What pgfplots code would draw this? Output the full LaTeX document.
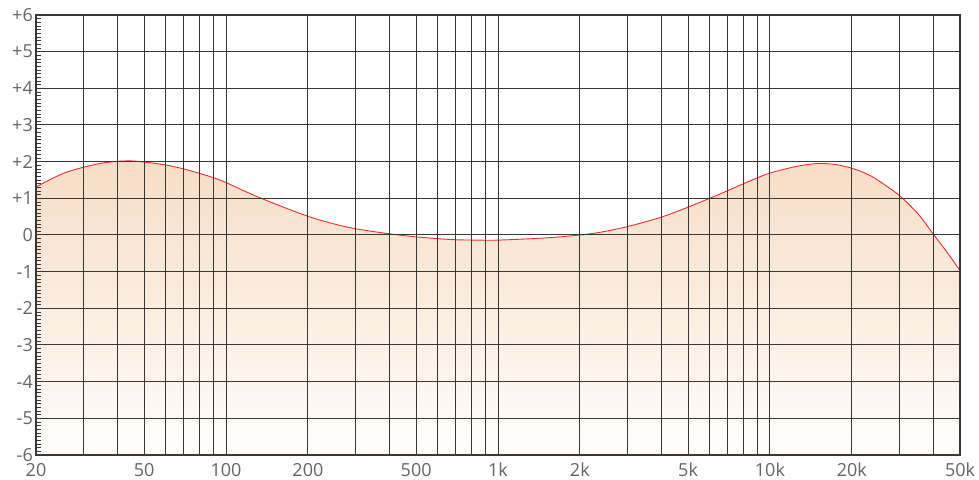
\documentclass[border=0pt]{standalone}
\usepackage{pgfplots}
\pgfplotsset{compat=1.18}
\usepackage{pgfplotstable}
\usepackage{fontspec}
\setmainfont{Open Sans}
\pgfplotstableread{
f db
20 1.31
25 1.67
30 1.85
35 1.96
40 2.01
45 2.02
50 1.99
60 1.91
70 1.80
80 1.68
90 1.56
100 1.43
120 1.16
150 0.86
200 0.51
250 0.30
300 0.17
400 0.03
500 -0.05
600 -0.10
700 -0.13
850 -0.14
1000 -0.14
1500 -0.08
2000 0.0
2400 0.08
3000 0.23
4000 0.49
5000 0.76
6000 1.0
7000 1.21
8000 1.40
9000 1.56
10000 1.69
12500 1.87
15000 1.95
17500 1.92
20000 1.82
22500 1.68
25000 1.49
30000 1.07
35000 0.58
40000 0.01
45000 -0.49
50000 -0.97
}\curve
\definecolor{gridc}{RGB}{55,55,55}
\definecolor{labc}{RGB}{100,100,100}
\definecolor{curvec}{RGB}{232,45,45}
\definecolor{filltop}{RGB}{247,221,198}
\definecolor{fillbot}{RGB}{255,253,251}
\begin{document}
\begin{tikzpicture}
\begin{axis}[
  scale only axis, width=924pt, height=440pt,
  xmode=log, xmin=20, xmax=50000, ymin=-6, ymax=6,
  axis on top,
  axis line style={gridc, line width=1.2pt},
  xtick={20,50,100,200,500,1000,2000,5000,10000,20000,50000},
  xticklabels={20,50,100,200,500,1k,2k,5k,10k,20k,50k},
  minor xtick={30,40,60,70,80,90,300,400,600,700,800,900,3000,4000,6000,7000,8000,9000,30000,40000},
  ytick={-6,-5,...,6},
  yticklabels={-6,-5,-4,-3,-2,-1,0,+1,+2,+3,+4,+5,+6},
  minor y tick num=9,
  xmajorgrids, xminorgrids, ymajorgrids,
  major grid style={gridc, line width=1pt},
  minor grid style={gridc, line width=1pt},
  xtick style={draw=none},
  minor x tick style={draw=none},
  ytick pos=left,
  ytick style={gridc, line width=0.8pt},
  major tick length=0pt,
  minor tick length=5pt,
  tick label style={font=\fontsize{18}{20}\selectfont, text=labc},
  xticklabel style={anchor=north, inner sep=0pt, yshift=-8pt, text height=13pt, text depth=0pt},
  yticklabel style={anchor=east, inner sep=0pt, xshift=-3pt},
]
\addplot[draw=none, top color=filltop, bottom color=fillbot, smooth] table[x=f,y=db] {\curve} |- (axis cs:20,-6) -- cycle;
\addplot[curvec, line width=0.9pt, smooth] table[x=f,y=db] {\curve};
\end{axis}
\pgfresetboundingbox
\path (-36pt,-24pt) rectangle (943pt,455pt);
\end{tikzpicture}
\end{document}
